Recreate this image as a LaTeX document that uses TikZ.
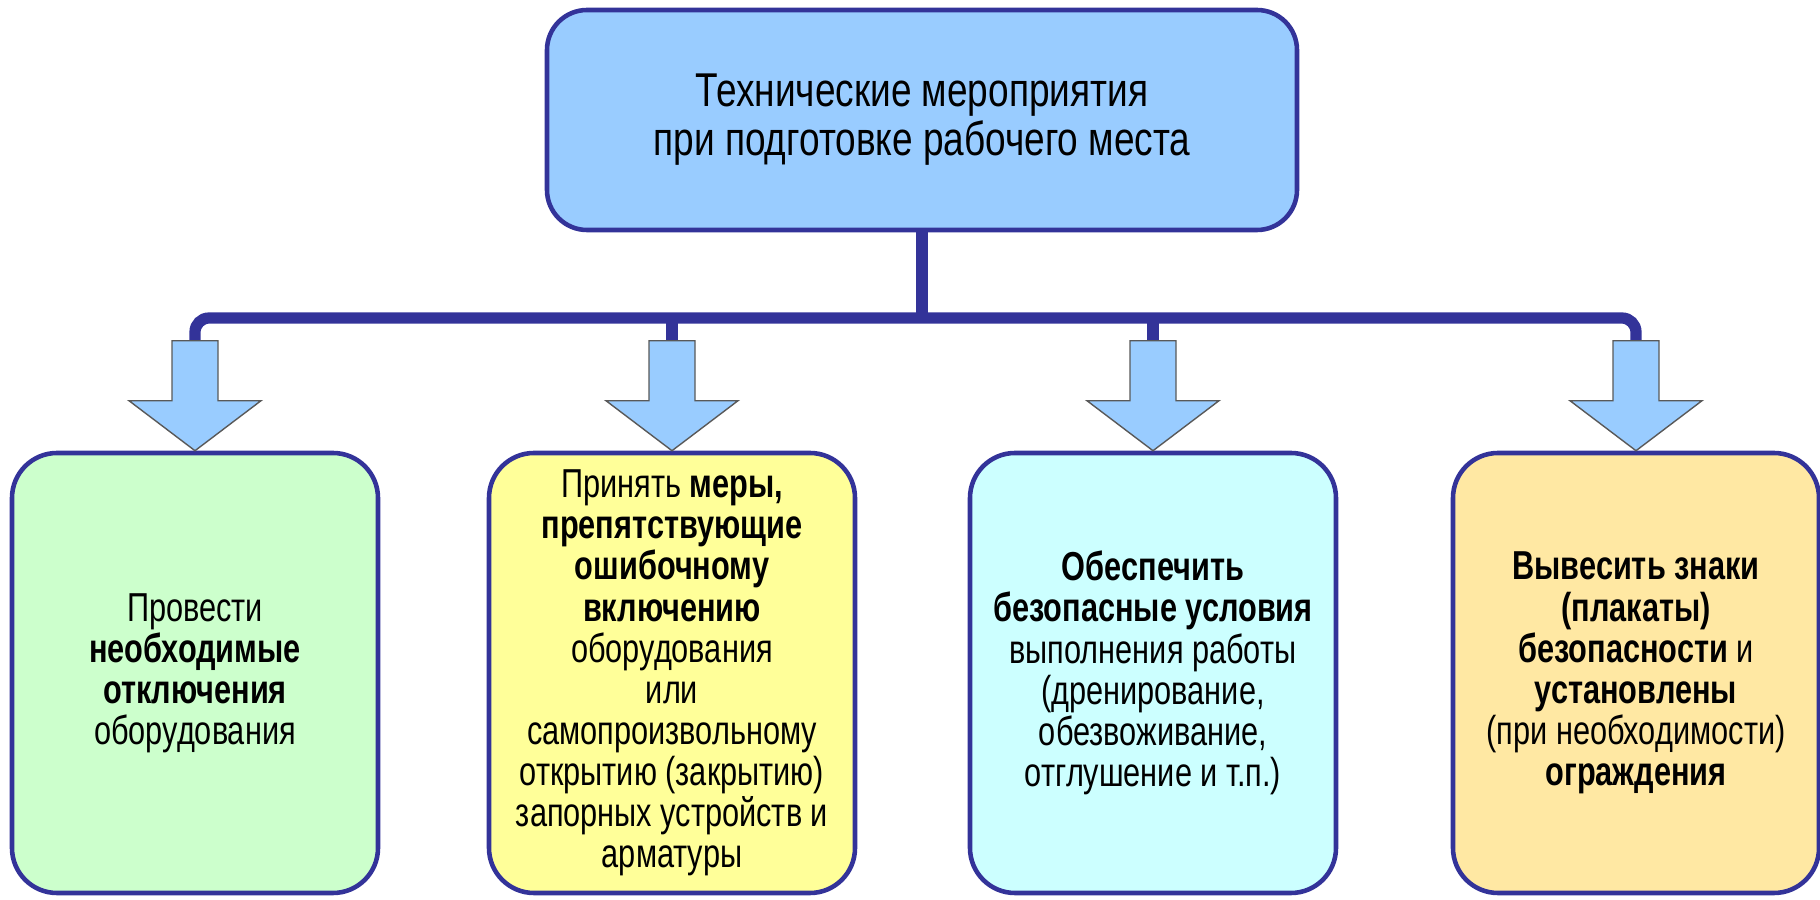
\documentclass[tikz,border=0pt]{standalone}
\usepackage{fontspec}
\setmainfont{Liberation Sans}
\newfontfamily\titlefont{Liberation Sans}[FakeStretch=0.78]
\newfontfamily\boxfont{Liberation Sans}[FakeStretch=0.76]
\usetikzlibrary{positioning}
\definecolor{navy}{HTML}{333399}
\definecolor{skyfill}{HTML}{99CCFF}
\definecolor{greenfill}{HTML}{CCFFCC}
\definecolor{yellowfill}{HTML}{FFFF99}
\definecolor{cyanfill}{HTML}{CCFFFF}
\definecolor{sandfill}{HTML}{FFE8A3}
\tikzset{
  headbox/.style={draw=navy, line width=1.3pt, fill=skyfill, rounded corners=0.4cm,
    minimum width=7.5cm, minimum height=2.2cm, align=center,
    font=\titlefont\fontsize{13.5}{14}\selectfont},
  taskbox/.style={draw=navy, line width=1.3pt, rounded corners=0.45cm,
    minimum width=3.66cm, minimum height=4.4cm, align=center,
    font=\boxfont\fontsize{11.5}{11.7}\selectfont},
  busline/.style={draw=navy, line width=3.2pt},
  blockarrow/.style={draw=black!65, line width=0.4pt, fill=skyfill}
}
\begin{document}
\begin{tikzpicture}
   \useasboundingbox (0,0) rectangle (18.2,9);

   \node[headbox] (title) at (9.22,7.8) {Технические мероприятия\\при подготовке рабочего места};

   \node[taskbox, fill=greenfill] (off) at (1.95,2.27)
      {Провести\\\textbf{необходимые}\\\textbf{отключения}\\оборудования};
   \node[taskbox, fill=yellowfill] (lock) at (6.72,2.27)
      {Принять \textbf{меры,}\\\textbf{препятствующие}\\\textbf{ошибочному}\\\textbf{включению}\\оборудования\\или\\самопроизвольному\\открытию (закрытию)\\запорных устройств и\\арматуры};
   \node[taskbox, fill=cyanfill] (safe) at (11.53,2.27)
      {\textbf{Обеспечить}\\\textbf{безопасные условия}\\выполнения работы\\(дренирование,\\обезвоживание,\\отглушение и т.п.)};
   \node[taskbox, fill=sandfill] (signs) at (16.36,2.27)
      {\textbf{Вывесить знаки}\\\textbf{(плакаты)}\\\textbf{безопасности} и\\\textbf{установлены}\\(при необходимости)\\\textbf{ограждения}};

   % bus from the title down to every box
   \coordinate (bus) at (9.22,5.82);
   \draw[busline] (title.south) -- (title.south |- bus);
   \draw[busline, rounded corners=4pt] ([yshift=1.1cm]off.north) |- (bus)
      -| ([yshift=1.1cm]signs.north);
   \foreach \n in {lock,safe}
      \draw[busline] ([yshift=1.1cm]\n.north) -- (\n.north |- bus);

   % block arrows
   \foreach \n in {off,lock,safe,signs}
      \draw[blockarrow, shift={(\n.north)}] (-0.23,1.1) -- (-0.23,0.5) -- (-0.66,0.5)
         -- (0,0) -- (0.66,0.5) -- (0.23,0.5) -- (0.23,1.1) -- cycle;
\end{tikzpicture}
\end{document}
